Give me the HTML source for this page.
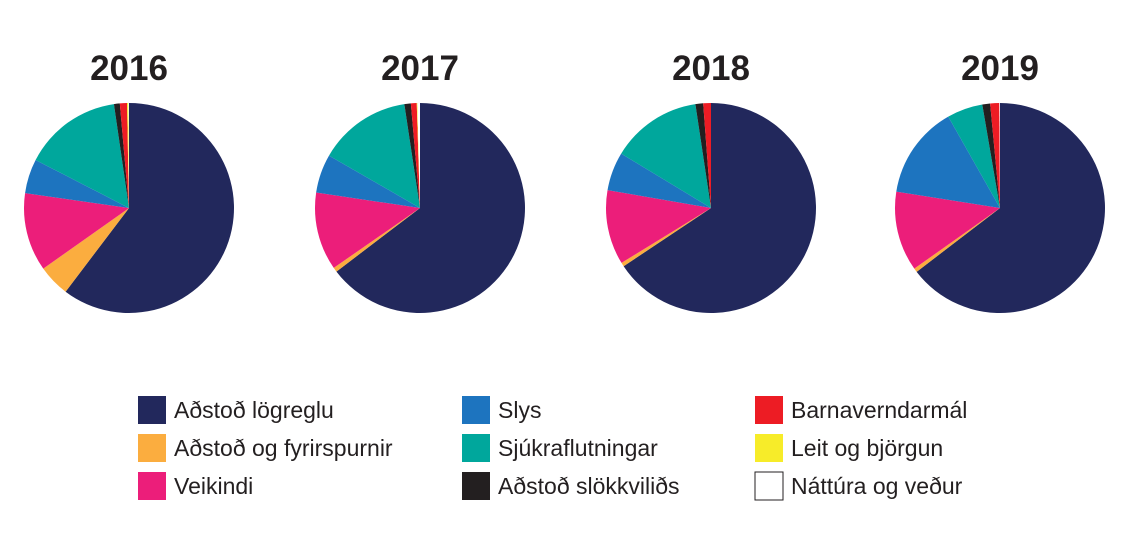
<!DOCTYPE html>
<html><head><meta charset="utf-8"><style>
body{margin:0;background:#fff;width:1134px;height:542px;overflow:hidden;font-family:"Liberation Sans",sans-serif}
</style></head><body>
<svg id="chart" width="1134" height="542" xmlns="http://www.w3.org/2000/svg"></svg>
<script>
const years=["2016","2017","2018","2019"];
const categories=["Aðstoð lögreglu","Aðstoð og fyrirspurnir","Veikindi","Slys","Sjúkraflutningar","Aðstoð slökkviliðs","Barnaverndarmál","Leit og björgun","Náttúra og veður"];
const colors=["#22285c","#fbad3f","#ec1e7a","#1d74bf","#00a79c","#231f20","#ed1c24","#f7ec29","#ffffff"];
const v2016=[60.5,4.9,12.1,5.3,15.2,0.9,1.1,0.2,0.1];
const v2017=[65.1,0.7,12.1,6.0,14.4,1.0,0.9,0.1,0.4];
const v2018=[66.3,0.6,11.6,6.0,14.1,1.2,1.2,0,0];
const v2019=[64.6,0.6,12.3,14.3,5.5,1.2,1.4,0,0.1];
const series=[v2016,v2017,v2018,v2019];
const NS="http://www.w3.org/2000/svg";
const svg=document.getElementById('chart');
const cxs=[129,420,711,1000],cy=208,R=105;
series.forEach((vals,i)=>{
  const g=document.createElementNS(NS,'g');
  
  
  svg.appendChild(g);
  const t=document.createElementNS(NS,'text');
  
  
  t.setAttribute('x',cxs[i]);t.setAttribute('y',80);t.setAttribute('text-anchor','middle');
  t.setAttribute('font-size','35');t.setAttribute('font-weight','bold');t.setAttribute('fill','#231f20');
  t.textContent=years[i];g.appendChild(t);
  const tot=vals.reduce((a,b)=>a+b,0);let a0=0;
  vals.forEach((v,j)=>{
    if(v<=0)return;
    const a1=a0+v/tot*2*Math.PI;
    const x0=cxs[i]+R*Math.sin(a0),y0=cy-R*Math.cos(a0),x1=cxs[i]+R*Math.sin(a1),y1=cy-R*Math.cos(a1);
    const p=document.createElementNS(NS,'path');
    
    
    p.setAttribute('d',`M${cxs[i]},${cy}L${x0},${y0}A${R},${R} 0 ${a1-a0>Math.PI?1:0} 1 ${x1},${y1}Z`);
    p.setAttribute('fill',colors[j]);
    g.appendChild(p);a0=a1;
  });
});
const lx=[138,462,755],ly=[396,434,472];
categories.forEach((c,k)=>{
  const col=Math.floor(k/3),row=k%3;
  const g=document.createElementNS(NS,'g');
  
  
  svg.appendChild(g);
  const r=document.createElementNS(NS,'rect');
  
  
  r.setAttribute('x',lx[col]);r.setAttribute('y',ly[row]);r.setAttribute('width',28);r.setAttribute('height',28);
  r.setAttribute('fill',colors[k]);
  if(k===8){r.setAttribute('stroke','#231f20');r.setAttribute('stroke-width','1');}
  g.appendChild(r);
  const t=document.createElementNS(NS,'text');
  
  
  t.setAttribute('x',lx[col]+36);t.setAttribute('y',ly[row]+22);
  t.setAttribute('font-size','23');t.setAttribute('fill','#231f20');
  t.textContent=c;g.appendChild(t);
});
</script>
</body></html>
